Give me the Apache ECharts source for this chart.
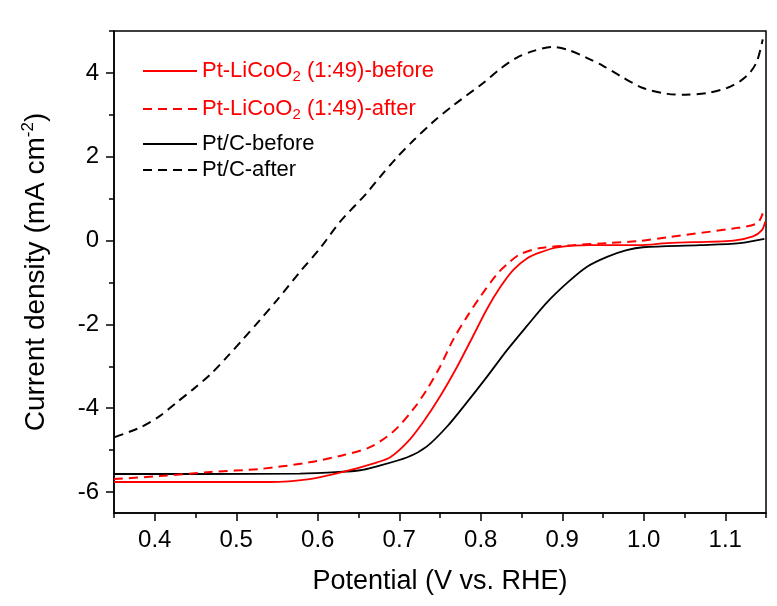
<!DOCTYPE html>
<html>
<head>
<meta charset="utf-8">
<script src="https://cdn.jsdelivr.net/npm/echarts@6/dist/echarts.min.js"></script>
<style>html,body{margin:0;padding:0;background:#fff}#c{width:777px;height:606px}</style>
</head>
<body>
<div id="c"></div>
<script>
// ---- data ----
const seriesNames = ['Pt-LiCoO2 (1:49)-before', 'Pt-LiCoO2 (1:49)-after', 'Pt/C-before', 'Pt/C-after'];

const licooBeforeX = [0.35,0.468,0.541,0.590,0.631,0.673,0.689,0.710,0.729,0.750,0.771,0.790,0.808,0.824,0.840,0.857,0.873,0.894,0.934,0.995,1.029,1.110,1.134,1.145,1.149];
const licooBeforeY = [-5.76,-5.76,-5.76,-5.69,-5.52,-5.29,-5.17,-4.81,-4.34,-3.72,-3.01,-2.30,-1.62,-1.11,-0.70,-0.42,-0.28,-0.16,-0.11,-0.11,-0.06,0.0,0.10,0.25,0.45];

const licooAfterX = [0.35,0.406,0.468,0.529,0.590,0.631,0.664,0.692,0.717,0.734,0.750,0.766,0.783,0.799,0.820,0.832,0.848,0.873,0.913,0.955,0.995,1.029,1.110,1.139,1.146];
const licooAfterY = [-5.69,-5.62,-5.52,-5.45,-5.29,-5.12,-4.93,-4.57,-4.03,-3.55,-3.01,-2.37,-1.82,-1.35,-0.80,-0.57,-0.33,-0.18,-0.11,-0.06,-0.01,0.08,0.29,0.41,0.65];

const ptcBeforeX = [0.35,0.455,0.578,0.627,0.652,0.668,0.710,0.734,0.759,0.783,0.808,0.832,0.857,0.881,0.906,0.930,0.955,0.979,0.999,1.069,1.118,1.148];
const ptcBeforeY = [-5.57,-5.57,-5.56,-5.52,-5.48,-5.41,-5.17,-4.91,-4.43,-3.86,-3.24,-2.62,-2.03,-1.48,-1.01,-0.63,-0.39,-0.23,-0.16,-0.11,-0.06,0.04];

const ptcAfterX = [0.351,0.382,0.406,0.427,0.447,0.468,0.489,0.508,0.529,0.550,0.578,0.603,0.627,0.660,0.676,0.697,0.717,0.741,0.766,0.803,0.824,0.844,0.864,0.887,0.907,0.930,0.950,0.971,0.999,1.029,1.051,1.078,1.102,1.118,1.130,1.139,1.146];
const ptcAfterY = [-4.69,-4.46,-4.19,-3.86,-3.55,-3.20,-2.77,-2.36,-1.90,-1.42,-0.75,-0.18,0.44,1.13,1.51,1.98,2.38,2.82,3.22,3.76,4.10,4.36,4.52,4.62,4.55,4.36,4.17,3.93,3.64,3.50,3.48,3.52,3.64,3.80,4.00,4.28,4.80];

const xMajorTicks = [0.4,0.5,0.6,0.7,0.8,0.9,1.0,1.1];
const xMinorTicks = [0.35,0.45,0.55,0.65,0.75,0.85,0.95,1.05,1.15];
const yMajorTicks = [-6,-4,-2,0,2,4];
const yMinorTicks = [-5,-3,-1,1,3,5];

// ---- chart ----
const zip = (xs, ys) => xs.map((x, i) => [x, ys[i]]);
const FONT = '"Liberation Sans", Arial, sans-serif';
const RED = '#ff0000';
const BLACK = '#000000';

const legendRich = {
  a: { fontSize: 22, fontFamily: FONT },
  sub: { fontSize: 15, fontFamily: FONT, padding: [12, 0, 0, 0] }
};
function legendFmt(name) {
  if (name.indexOf('LiCoO2') >= 0) {
    const parts = name.split('LiCoO2');
    return '{a|' + parts[0] + 'LiCoO}{sub|2}{a|' + parts[1] + '}';
  }
  return '{a|' + name + '}';
}
const legendTops = [55, 93, 128, 154];
const legendColors = [RED, RED, BLACK, BLACK];

const chart = echarts.init(document.getElementById('c'), null, { renderer: 'canvas' });
const option = {
  backgroundColor: '#ffffff',
  animation: false,
  textStyle: { fontFamily: FONT },
  grid: { left: 114, right: 11, top: 31, bottom: 93, show: true, borderColor: '#000', borderWidth: 1.5, backgroundColor: 'transparent' },
  legend: seriesNames.map((n, i) => ({
    data: [{ name: n, textStyle: { color: legendColors[i] } }],
    left: 137, top: legendTops[i], orient: 'vertical',
    itemWidth: 54, itemHeight: 14, itemGap: 0,
    itemStyle: { opacity: 0 },
    formatter: legendFmt,
    textStyle: { fontSize: 22, fontFamily: FONT, color: legendColors[i], rich: legendRich },
    selectedMode: false
  })),
  xAxis: [
    {
      type: 'value', min: 0.35, max: 1.15, position: 'bottom',
      name: 'Potential (V vs. RHE)', nameLocation: 'middle', nameGap: 55,
      nameTextStyle: { fontSize: 27, color: '#000', fontFamily: FONT },
      axisLine: { onZero: false, lineStyle: { color: '#000', width: 1.5 } },
      axisTick: { show: true, inside: false, length: 8, customValues: xMajorTicks, lineStyle: { color: '#000', width: 1.5 } },
      axisLabel: { customValues: xMajorTicks, fontSize: 24, color: '#000', margin: 15, fontFamily: FONT,
        formatter: v => v.toFixed(1) },
      splitLine: { show: false }
    },
    {
      type: 'value', min: 0.35, max: 1.15, position: 'bottom', gridIndex: 0,
      axisLine: { show: false, onZero: false },
      axisTick: { show: true, inside: false, length: 5, customValues: xMinorTicks, lineStyle: { color: '#000', width: 1.5 } },
      axisLabel: { show: false },
      splitLine: { show: false }
    }
  ],
  yAxis: [
    {
      type: 'value', min: -6.5, max: 5, position: 'left',
      name: 'Current density (mA cm{sup|-2})', nameLocation: 'middle', nameGap: 62,
      nameTextStyle: { fontSize: 28, color: '#000', fontFamily: FONT,
        rich: { sup: { fontSize: 17, fontFamily: FONT, color: '#000', padding: [0, 0, 15, 0] } } },
      axisLine: { onZero: false, lineStyle: { color: '#000', width: 1.5 } },
      axisTick: { show: true, inside: false, length: 8, customValues: yMajorTicks, lineStyle: { color: '#000', width: 1.5 } },
      axisLabel: { customValues: yMajorTicks, fontSize: 24, color: '#000', margin: 15, fontFamily: FONT },
      splitLine: { show: false }
    },
    {
      type: 'value', min: -6.5, max: 5, position: 'left', gridIndex: 0,
      axisLine: { show: false, onZero: false },
      axisTick: { show: true, inside: false, length: 5, customValues: yMinorTicks, lineStyle: { color: '#000', width: 1.5 } },
      axisLabel: { show: false },
      splitLine: { show: false }
    }
  ],
  series: [
    { name: seriesNames[0], type: 'line', data: zip(licooBeforeX, licooBeforeY), symbol: 'none', smooth: 0.3,
      lineStyle: { color: RED, width: 1.8, type: 'solid' }, itemStyle: { color: RED }, z: 4 },
    { name: seriesNames[1], type: 'line', data: zip(licooAfterX, licooAfterY), symbol: 'none', smooth: 0.3,
      lineStyle: { color: RED, width: 2, type: [9, 6] }, itemStyle: { color: RED }, z: 3 },
    { name: seriesNames[2], type: 'line', data: zip(ptcBeforeX, ptcBeforeY), symbol: 'none', smooth: 0.3,
      lineStyle: { color: BLACK, width: 1.8, type: 'solid' }, itemStyle: { color: BLACK }, z: 2 },
    { name: seriesNames[3], type: 'line', data: zip(ptcAfterX, ptcAfterY), symbol: 'none', smooth: 0.3,
      lineStyle: { color: BLACK, width: 2, type: [9, 6] }, itemStyle: { color: BLACK }, z: 2 }
  ]
};
chart.setOption(option);
</script>
</body>
</html>
